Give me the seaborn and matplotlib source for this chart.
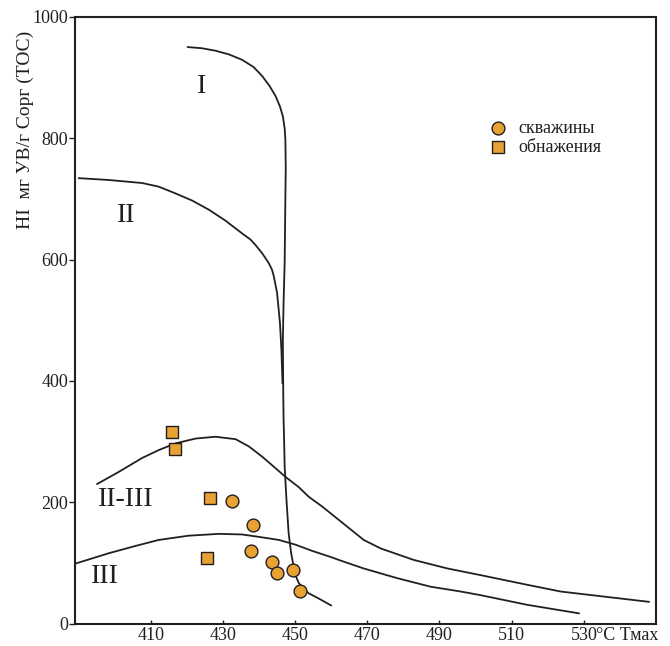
import matplotlib
matplotlib.use("Agg")
import matplotlib.pyplot as plt
import seaborn as sns

# ---- data ----
curve_I_x = [420.2, 424.2, 427.9, 431.6, 435.3, 438.5, 440.9, 442.9, 444.6, 445.8, 446.6, 447.1,
             447.3, 447.4, 447.3, 447.2, 447.1, 446.8, 446.6, 446.7, 446.8, 446.9, 447.1, 447.6,
             448.2, 448.9, 449.6, 450.3, 451.0, 452.4, 453.8, 457.0, 460.0]
curve_I_y = [950, 948, 944, 938, 929, 917, 902, 886, 869, 852, 836, 816,
             797, 750, 704, 650, 594, 530, 468, 385, 336, 314, 259, 204,
             149, 116, 94, 77, 67, 57, 50, 40, 30]

curve_II_x = [390.0, 398.3, 407.6, 412.2, 416.8, 421.5, 426.1, 430.7, 435.3, 437.6, 439.0,
              440.9, 442.7, 443.6, 444.1, 445.0, 445.8, 446.2, 446.5]
curve_II_y = [734, 731, 726, 720, 709, 697, 682, 664, 643, 633, 624,
              610, 594, 583, 572, 545, 495, 451, 396]

curve_II_III_x = [395.1, 401.1, 407.6, 412.2, 416.8, 422.4, 427.9, 433.5, 437.2, 440.9, 444.6,
                  447.3, 451.0, 453.8, 457.5, 459.8, 464.4, 469.0, 473.7, 482.9, 492.2, 501.4,
                  514.4, 523.6, 548.1]
curve_II_III_y = [230, 250, 273, 286, 297, 305, 308, 304, 292, 275, 256,
                  242, 225, 209, 193, 182, 160, 138, 124, 105, 91, 80,
                  64, 53, 36]

curve_III_x = [389.1, 398.3, 405.7, 412.2, 420.5, 428.9, 435.3, 440.0, 445.5, 450.2, 454.7,
               459.8, 463.1, 469.0, 478.3, 487.5, 495.9, 501.4, 514.4, 528.7]
curve_III_y = [99, 116, 128, 138, 145, 148, 147, 143, 138, 130, 120,
               110, 103, 91, 75, 61, 53, 47, 31, 17]

wells_tmax = [432.5, 438.2, 437.7, 443.6, 445.0, 449.5, 451.4]
wells_hi = [202, 162, 120, 101, 84, 89, 54]

outcrops_tmax = [415.8, 416.7, 426.5, 425.6]
outcrops_hi = [316, 288, 207, 108]

curve_labels = ["I", "II", "II-III", "III"]
curve_label_x = [424.2, 403.1, 403.0, 397.2]
curve_label_y = [885, 672, 205, 77]

x_ticks = [410, 430, 450, 470, 490, 510, 530]
y_ticks = [0, 200, 400, 600, 800, 1000]

legend_labels = ["скважины", "обнажения"]

# ---- style ----
sns.set_theme(style="white")
plt.rcParams["font.family"] = ["Liberation Serif", "DejaVu Serif"]
plt.rcParams["text.color"] = "#231f20"

line_color = "#231f20"
fill_color = "#E8A133"

fig = plt.figure(figsize=(6.70, 6.46), dpi=100)
ax = fig.add_axes([75 / 670, 1 - 623.7 / 646, (656 - 75) / 670, (623.7 - 16.7) / 646])

for cx, cy in [(curve_I_x, curve_I_y), (curve_II_x, curve_II_y),
               (curve_II_III_x, curve_II_III_y), (curve_III_x, curve_III_y)]:
    sns.lineplot(x=cx, y=cy, sort=False, estimator=None, ax=ax,
                 color=line_color, linewidth=1.3)

sns.scatterplot(x=wells_tmax, y=wells_hi, ax=ax, marker="o", s=85,
                color=fill_color, edgecolor=line_color, linewidth=1.0,
                label=legend_labels[0], zorder=5)
sns.scatterplot(x=outcrops_tmax, y=outcrops_hi, ax=ax, marker="s", s=80,
                color=fill_color, edgecolor=line_color, linewidth=1.0,
                label=legend_labels[1], zorder=5)

for t, lx, ly in zip(curve_labels, curve_label_x, curve_label_y):
    ax.text(lx, ly, t, ha="center", va="center", fontsize=20, color=line_color)

ax.set_xlim(389, 550)
ax.set_ylim(0, 1000)
ax.set_xticks(x_ticks)
ax.set_xticklabels([str(v) for v in x_ticks])
ax.set_yticks(y_ticks)
ax.set_yticklabels([str(v) for v in y_ticks])
ax.tick_params(axis="x", direction="in", length=3, width=1, pad=2.5, labelsize=13,
               colors=line_color, bottom=True)
ax.tick_params(axis="y", direction="out", length=4, width=1, pad=1, labelsize=13,
               colors=line_color, left=True)
for sp in ax.spines.values():
    sp.set_visible(True)
    sp.set_color(line_color)
    sp.set_linewidth(1.5)
ax.set_xlabel("")
ax.set_ylabel("")

ax.annotate("°C Тмах", xy=(530, 0), xycoords=("data", "axes fraction"),
            xytext=(12, -3.5), textcoords="offset pixels", ha="left", va="top",
            fontsize=13, color=line_color)

fig.text(25 / 670, 1 - 130 / 646, "HI  мг УВ/г Сорг (ТОС)", rotation=90,
         ha="center", va="center", fontsize=14, color=line_color)

leg = ax.legend(loc="upper left", bbox_to_anchor=((489 - 75) / 581, (623.7 - 120) / 607),
                frameon=False, fontsize=13, handlelength=1.0, handletextpad=0.6,
                labelspacing=0.1, borderpad=0, borderaxespad=0)

fig.savefig("out.png", dpi=100)
